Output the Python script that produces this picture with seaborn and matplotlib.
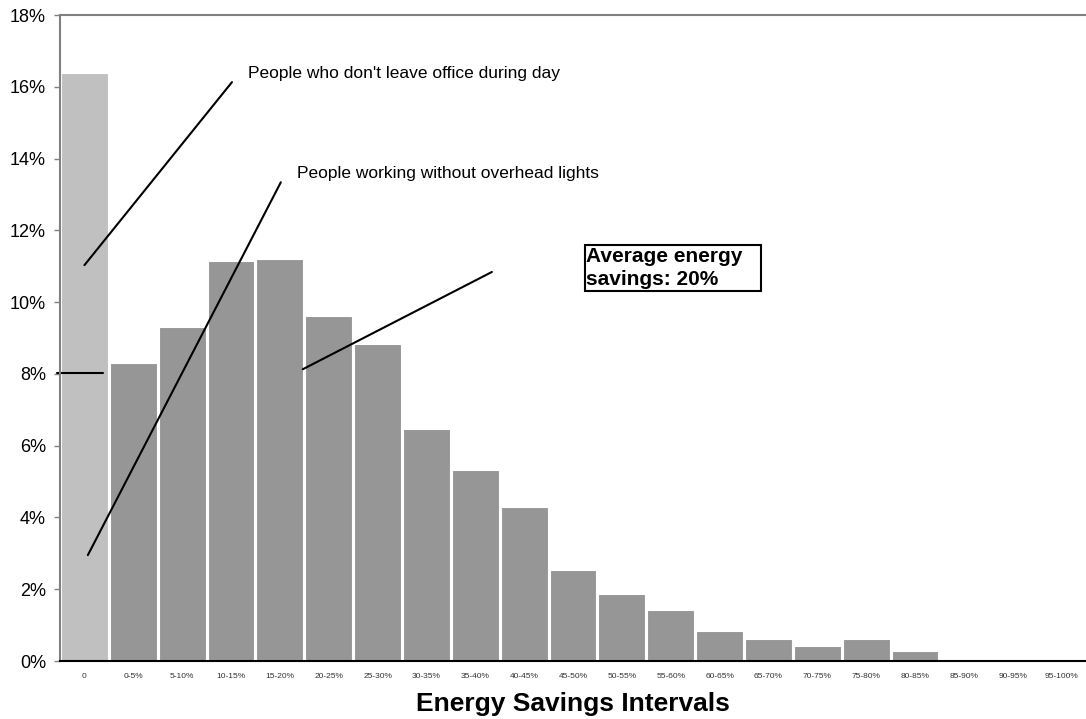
import seaborn as sns
import matplotlib.pyplot as plt
import pandas as pd

# bar data (percent of people per savings interval)
intervals = ['0', '0-5%', '5-10%', '10-15%', '15-20%', '20-25%', '25-30%',
             '30-35%', '35-40%', '40-45%', '45-50%', '50-55%', '55-60%',
             '60-65%', '65-70%', '70-75%', '75-80%', '80-85%', '85-90%',
             '90-95%', '95-100%']
share = [16.38, 8.30, 9.31, 11.15, 11.20, 9.61, 8.83, 6.46, 5.32, 4.29,
         2.53, 1.87, 1.42, 0.84, 0.60, 0.42, 0.60, 0.28, 0.06, 0.03, 0.02]
bar_colors = ['#c0c0c0'] + ['#969696'] * (len(intervals) - 1)

df = pd.DataFrame({'interval': intervals, 'share': share})

sns.set_theme(style='white')
plt.rcParams['font.family'] = ['Liberation Sans', 'DejaVu Sans']
plt.rcParams['text.color'] = 'black'

fig = plt.figure(figsize=(10.86, 7.19), dpi=100)
ax = fig.add_axes([60 / 1086, 58 / 719, 1026 / 1086, 646 / 719])

sns.barplot(data=df, x='interval', y='share', hue='interval',
            palette=bar_colors, legend=False, width=0.96,
            edgecolor='white', linewidth=0.8, saturation=1, ax=ax)

ax.set_xlim(-0.5, len(intervals) - 0.5)
ax.set_ylim(0, 18)
ax.set_yticks(range(0, 19, 2))
ax.set_yticklabels(['{}%'.format(v) for v in range(0, 19, 2)], fontsize=13)
ax.tick_params(axis='x', labelsize=6, length=0, pad=9, labelcolor='#333333')
ax.tick_params(axis='y', left=True, length=4, width=1, color='#808080',
               pad=6, labelcolor='black')

ax.set_xlabel('Energy Savings Intervals', fontsize=19, fontweight='bold',
              labelpad=8, color='black')
ax.set_ylabel('')

for side in ['left', 'top']:
    ax.spines[side].set_color('#808080')
    ax.spines[side].set_linewidth(1.5)
ax.spines['bottom'].set_color('black')
ax.spines['bottom'].set_linewidth(1.5)
ax.spines['right'].set_visible(False)

# callout lines
line_kw = dict(color='black', linewidth=1.5, clip_on=False)
ax.plot([0.0, 3.02], [11.03, 16.13], **line_kw)
ax.plot([0.07, 4.02], [2.95, 13.34], **line_kw)
ax.plot([4.47, 8.34], [8.13, 10.84], **line_kw)
ax.plot([-0.56, 0.38], [8.02, 8.02], **line_kw)

ax.text(3.35, 16.38, "People who don't leave office during day",
        fontsize=12.5, ha='left', va='center')
ax.text(4.35, 13.59, 'People working without overhead lights',
        fontsize=12.5, ha='left', va='center')
ax.text(10.27, 10.95, 'Average energy   \nsavings: 20%', fontsize=15,
        fontweight='bold', ha='left', va='center', linespacing=1.3,
        bbox=dict(boxstyle='square,pad=0.08', facecolor='white',
                  edgecolor='black', linewidth=1.5))

plt.savefig('out.png', dpi=100)
